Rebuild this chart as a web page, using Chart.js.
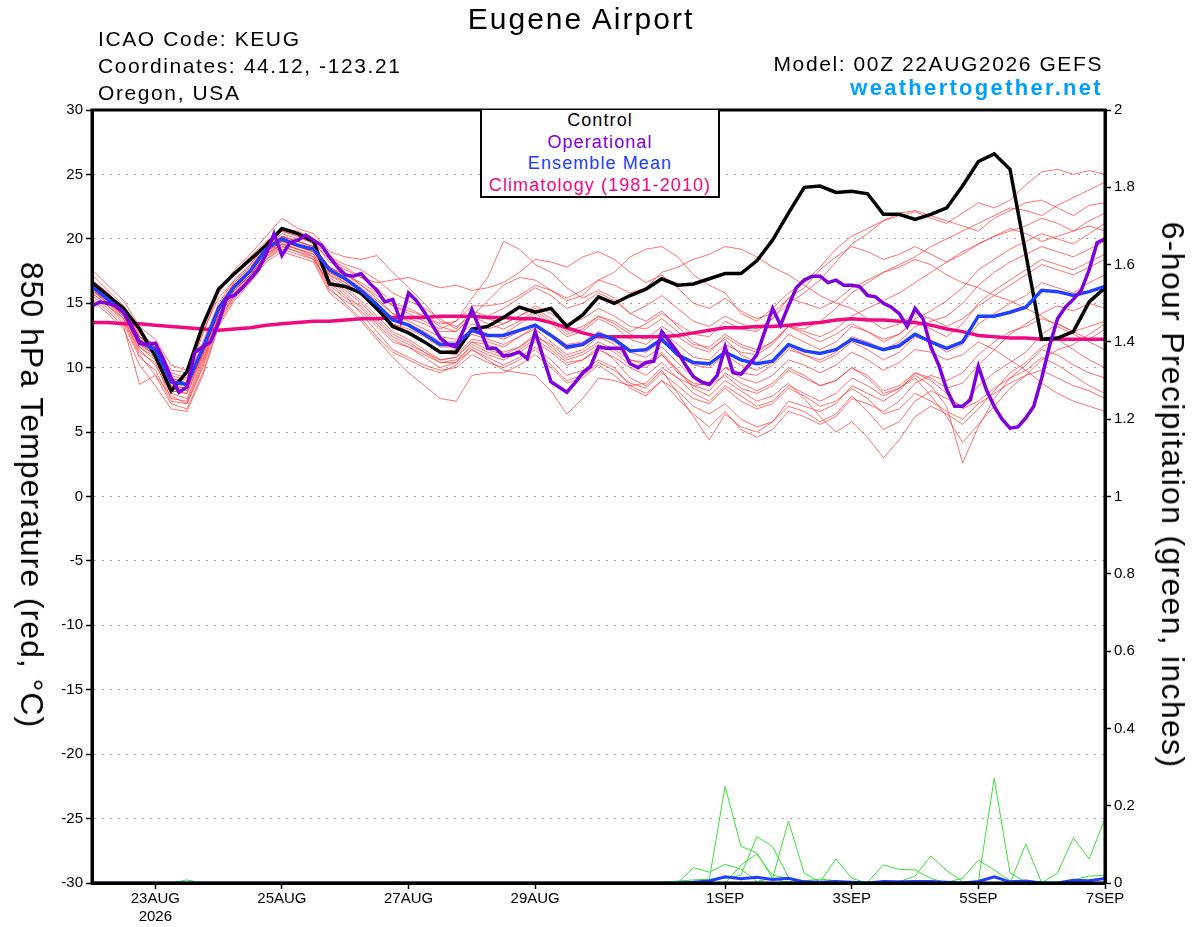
<!DOCTYPE html>
<html>
<head>
<meta charset="utf-8">
<script src="https://cdn.jsdelivr.net/npm/chart.js@4.4.1/dist/chart.umd.min.js"></script>
<style>
html,body{margin:0;padding:0;background:#fff;}
#wrap{position:relative;width:1200px;height:927px;overflow:hidden;font-family:"Liberation Sans",Arial,Helvetica,sans-serif;background:#fff;}
#c{position:absolute;left:0;top:0;}
.t{position:absolute;white-space:nowrap;line-height:1;color:#000;}
.rot{position:absolute;white-space:nowrap;line-height:1;transform:translate(-50%,-50%) rotate(90deg);font-size:32px;}
#legend{position:absolute;left:480px;top:110px;width:236px;height:86px;background:#fff;border-left:2px solid #000;border-right:2px solid #000;border-bottom:2px solid #000;z-index:3;}
#legend div{text-align:center;font-size:18px;line-height:21.5px;letter-spacing:1.1px;white-space:nowrap;}
</style>
</head>
<body>
<div id="wrap">
<canvas id="c" width="1200" height="927"></canvas>
<div class="t" style="left:0;width:1162px;text-align:center;top:4px;font-size:30px;letter-spacing:2px;">Eugene Airport</div>
<div class="t" style="left:98px;top:28px;font-size:21px;letter-spacing:1.6px;">ICAO Code: KEUG</div>
<div class="t" style="left:98px;top:55px;font-size:21px;letter-spacing:1.6px;">Coordinates: 44.12, -123.21</div>
<div class="t" style="left:98px;top:82px;font-size:21px;letter-spacing:1.6px;">Oregon, USA</div>
<div class="t" style="right:97px;top:53px;font-size:21px;letter-spacing:1.6px;">Model: 00Z 22AUG2026 GEFS</div>
<div class="t" style="right:97px;top:77px;font-size:22px;font-weight:bold;letter-spacing:2.3px;color:#00a0ff;">weathertogether.net</div>
<div id="legend">
  <div style="color:#000">Control</div>
  <div style="color:#7f00dc">Operational</div>
  <div style="color:#2040ff">Ensemble Mean</div>
  <div style="color:#f00a82">Climatology (1981-2010)</div>
</div>
<div class="rot" style="left:32px;top:495px;letter-spacing:1px;">850 hPa Temperature (red, °C)</div>
<div class="rot" style="left:1173px;top:495px;letter-spacing:1.3px;">6-hour Precipitation (green, inches)</div>
</div>
<script>
// ---- time axis (hours after 00Z 22AUG2026) ----
const hours6 = [0,6,12,18,24,30,36,42,48,54,60,66,72,78,84,90,96,102,108,114,120,126,132,138,144,150,156,162,168,174,180,186,192,198,204,210,216,222,228,234,240,246,252,258,264,270,276,282,288,294,300,306,312,318,324,330,336,342,348,354,360,366,372,378,384];
const hours3 = [0,3,6,9,12,15,18,21,24,27,30,33,36,39,42,45,48,51,54,57,60,63,66,69,72,75,78,81,84,87,90,93,96,99,102,105,108,111,114,117,120,123,126,129,132,135,138,141,144,147,150,153,156,159,162,165,168,171,174,177,180,183,186,189,192,195,198,201,204,207,210,213,216,219,222,225,228,231,234,237,240,243,246,249,252,255,258,261,264,267,270,273,276,279,282,285,288,291,294,297,300,303,306,309,312,315,318,321,324,327,330,333,336,339,342,345,348,351,354,357,360,363,366,369,372,375,378,381,384];
const tickHours = [24,72,120,168,240,288,336,384];
const tickLabels = [["23AUG","2026"],"25AUG","27AUG","29AUG","1SEP","3SEP","5SEP","7SEP"];

// ---- main temperature lines (deg C) ----
const control = [16.6,15.6,14.6,13.0,10.9,8.2,9.7,13.3,16.1,17.3, 18.4,19.5,20.8,20.4,19.8,16.5,16.3,15.8,14.6,13.2, 12.7,12.0,11.2,11.2,13.0,13.2,13.9,14.7,14.3,14.6, 13.2,14.1,15.5,15.0,15.6,16.1,16.9,16.4,16.5,16.9, 17.3,17.3,18.3,19.9,22.0,24.0,24.1,23.6,23.7,23.5, 21.9,21.9,21.5,21.9,22.4,24.1,26.0,26.6,25.4,18.8, 12.2,12.3,12.8,15.1,16.2];
const ensembleMean = [16.3,15.3,14.3,12.0,11.4,8.9,8.7,11.5,14.6,16.3, 17.5,19.2,20.0,19.5,19.2,17.6,16.9,16.0,14.9,13.7, 13.3,12.6,11.8,11.8,12.9,12.5,12.5,12.9,13.3,12.5, 11.6,11.8,12.6,12.2,11.3,11.4,12.2,11.0,10.4,10.3, 11.2,10.6,10.3,10.5,11.8,11.3,11.1,11.4,12.2,11.8, 11.4,11.7,12.6,12.0,11.5,12.0,14.0,14.0,14.3,14.7, 16.0,15.9,15.6,15.9,16.3];
const climatology = [13.5,13.5,13.4,13.4,13.3,13.2,13.1,13.0,12.9,13.0, 13.1,13.3,13.4,13.5,13.6,13.6,13.7,13.8,13.8,13.9, 13.9,13.9,14.0,14.0,14.0,13.9,13.9,13.8,13.8,13.5, 13.1,12.7,12.4,12.4,12.4,12.4,12.4,12.5,12.7,12.9, 13.1,13.1,13.2,13.2,13.3,13.4,13.5,13.7,13.8,13.7, 13.7,13.6,13.5,13.3,13.0,12.8,12.5,12.4,12.3,12.3, 12.2,12.2,12.2,12.2,12.2];
const operational = [14.8,15.1,15.0,14.8,14.3,13.2,11.9,11.8,11.9,10.7, 9.2,8.1,8.5,11.2,11.6,12.0,13.5,15.4,15.6,16.2, 16.9,17.6,18.8,20.4,18.7,19.7,19.9,20.3,19.9,19.5, 18.6,17.8,17.2,17.1,17.3,16.6,16.0,15.1,15.3,13.6, 15.8,15.2,14.3,13.3,12.3,11.8,11.6,13.0,14.5,13.0, 11.5,11.5,10.9,11.0,11.2,10.7,12.8,10.8,8.9,8.5, 8.1,8.8,9.6,10.1,11.6,11.5,11.5,11.5,10.3,10.0, 10.4,10.5,12.8,12.0,11.2,10.2,9.3,8.9,8.7,9.4, 11.6,9.6,9.5,10.2,11.0,12.8,14.6,13.3,14.8,16.2, 16.8,17.1,17.1,16.6,16.8,16.4,16.4,16.3,15.6,15.5, 15.0,14.7,14.2,13.2,14.6,13.8,11.6,10.2,8.3,7.0, 7.0,7.5,10.1,8.3,7.0,6.0,5.3,5.4,6.1,7.0, 9.2,11.7,13.8,14.7,15.3,16.0,17.6,19.7,20.0];

// ---- ensemble members (deg C) ----
const m01 = [17.2,16.0,14.8,12.8,11.0,9.6,9.2,12.6,15.8,17.4, 18.6,19.8,20.6,20.2,19.6,18.4,17.8,17.0,16.2,15.0, 14.6,14.0,13.2,12.8,14.0,15.2,16.4,17.0,16.8,16.0, 15.2,15.6,16.8,17.4,18.6,19.2,19.4,18.6,17.2,16.4, 15.8,14.2,13.6,14.6,15.8,16.6,17.8,19.2,20.2,20.8, 21.4,21.8,22.1,21.6,21.2,22.0,22.8,22.4,23.0,24.2, 25.2,25.4,25.0,25.3,25.0];
const m02 = [15.8,14.8,13.6,11.0,9.4,7.8,7.2,10.2,13.8,15.6, 17.0,18.8,19.6,19.2,18.6,16.2,15.0,13.8,12.4,11.2, 10.6,10.0,9.6,10.2,11.4,10.8,10.2,10.8,11.6,10.6, 9.4,9.8,10.6,10.0,8.6,8.0,9.0,8.2,7.0,6.4, 7.2,6.0,5.4,5.8,7.0,6.6,5.8,6.4,7.8,6.6, 5.2,5.8,7.4,8.2,7.6,7.0,8.6,9.6,10.4,11.2, 12.6,13.4,12.8,12.2,13.0];
const m03 = [16.6,15.6,14.6,12.6,11.8,9.2,8.8,11.8,14.8,16.6, 17.8,19.4,20.4,20.0,19.8,18.6,18.0,17.6,16.8,15.8, 15.2,14.6,13.8,13.0,14.4,14.0,14.6,15.4,16.2,15.6, 14.6,15.0,15.8,15.2,14.2,14.8,15.6,14.6,13.6,13.2, 14.0,13.4,13.0,13.8,15.0,15.8,16.8,18.2,19.6,20.4, 21.4,22.0,22.2,21.8,21.4,21.0,20.6,21.6,22.2,22.8, 23.0,22.4,21.8,22.6,22.8];
const m04 = [16.0,15.2,14.0,11.6,10.6,8.2,8.0,10.8,14.2,16.0, 17.2,18.8,19.8,19.4,19.0,17.0,16.2,15.2,14.0,12.8, 12.2,11.4,10.6,10.8,12.0,11.8,11.2,11.6,12.4,11.8, 10.8,11.2,12.0,11.4,10.6,10.2,11.0,9.6,8.8,8.6, 9.4,8.4,8.0,8.6,9.8,9.2,8.6,9.0,10.0,9.4, 8.2,8.6,9.6,9.0,8.0,6.8,7.4,8.4,9.2,9.8, 10.8,10.2,9.4,8.6,8.0];
const m05 = [16.8,15.8,14.4,12.2,11.6,9.8,9.6,12.8,15.4,16.8, 18.0,19.6,20.8,20.6,20.0,18.8,17.4,16.4,15.6,14.8, 14.2,13.6,13.0,13.6,15.4,17.0,19.8,19.2,18.0,17.4, 16.2,15.4,16.0,15.4,14.2,13.6,14.4,13.2,12.0,11.4, 12.2,11.0,10.4,11.2,12.6,12.0,11.4,12.0,13.2,12.8, 12.2,12.6,13.6,13.0,12.4,13.4,15.0,16.0,16.8,17.6, 18.4,18.0,17.6,18.2,18.8];
const m06 = [16.2,15.0,14.2,11.8,11.2,8.6,8.4,11.0,14.4,16.2, 17.4,19.0,19.8,19.4,19.0,17.2,16.6,15.8,14.8,13.4, 12.8,12.0,11.2,11.0,12.2,12.0,11.6,12.4,13.0,12.0, 11.0,11.4,12.4,11.8,10.6,10.4,11.2,9.8,8.4,7.8, 9.0,8.2,7.4,7.8,8.8,7.6,6.2,5.0,5.8,4.6, 3.0,4.4,6.2,7.0,6.4,5.6,6.8,8.2,9.6,10.4, 11.6,12.2,11.4,10.6,10.0];
const m07 = [15.4,14.4,13.2,8.7,9.4,7.2,6.8,9.6,13.4,15.4, 16.8,18.4,19.2,18.8,18.4,16.0,15.2,14.4,13.2,12.0, 11.6,11.0,10.4,10.6,11.6,11.0,10.6,11.2,12.0,11.2, 10.2,10.6,11.4,10.8,10.0,9.4,10.4,9.2,8.0,7.4, 8.6,7.8,7.0,7.4,8.6,8.0,7.4,8.0,9.2,8.6, 7.8,8.4,9.4,8.6,7.0,2.6,5.4,7.6,9.2,10.2, 11.4,11.0,10.2,9.6,9.2];
const m08 = [16.4,15.4,14.4,12.4,11.4,9.0,8.6,11.4,14.6,16.4, 17.6,19.2,20.2,19.8,19.4,17.8,17.2,16.4,15.4,14.2, 13.6,13.0,12.4,12.2,13.4,13.0,13.4,14.0,14.6,13.8, 12.8,13.2,14.0,13.4,12.6,12.2,13.2,12.4,11.6,11.2, 12.4,11.6,11.2,12.0,13.2,12.8,12.4,13.0,14.0,14.6, 15.2,15.8,16.6,17.4,18.2,19.0,19.6,20.2,20.6,21.0, 21.6,21.2,20.6,21.4,22.0];
const m09 = [16.0,15.0,13.8,11.4,10.2,8.0,7.6,10.6,14.0,15.8, 17.0,18.6,19.6,19.2,18.8,16.8,15.8,14.6,13.4,12.2, 11.6,10.8,10.0,10.4,11.8,11.2,10.8,11.4,12.2,11.4, 10.4,10.6,11.6,10.6,9.2,8.6,9.8,8.0,6.2,4.4, 6.4,5.4,5.0,5.8,7.4,7.0,6.6,7.2,8.6,8.0, 7.4,8.2,9.6,9.2,8.4,8.8,10.2,11.4,12.6,13.4, 14.2,14.8,14.4,15.0,14.6];
const m10 = [16.8,15.8,14.6,12.4,11.8,9.4,9.0,12.0,15.0,16.8, 18.0,19.6,20.6,20.2,19.8,18.2,17.6,17.0,16.6,16.8, 17.0,16.6,16.2,16.4,16.0,16.2,16.6,17.4,18.4,18.2, 17.8,18.6,19.0,18.4,17.4,16.6,17.2,16.2,15.0,14.6, 15.4,14.4,13.8,14.2,15.4,15.0,14.6,15.2,16.2,16.8, 17.4,18.0,18.6,19.4,20.0,20.6,21.2,21.8,22.4,22.2, 21.8,22.6,23.2,23.8,24.4];
const m11 = [15.6,14.6,13.4,10.8,9.8,7.4,7.2,10.0,13.6,15.6, 16.8,18.4,19.4,19.0,18.4,16.6,15.6,14.2,12.8,11.4, 10.8,10.2,9.8,10.0,11.0,10.4,10.0,10.6,11.4,10.2, 9.0,9.4,10.4,9.8,8.8,8.4,9.6,8.6,7.6,7.2, 8.4,7.4,6.8,7.2,8.4,7.8,7.0,7.4,8.4,7.6, 6.4,6.8,8.0,7.4,6.6,6.0,7.2,8.0,8.8,9.4, 9.8,9.2,8.6,8.2,7.6];
const m12 = [16.4,15.4,14.2,12.0,11.2,8.8,8.6,11.2,14.6,16.4, 17.6,19.2,20.0,19.6,19.2,17.4,16.8,16.0,15.0,13.8, 13.4,12.8,12.0,12.0,13.0,12.6,12.2,12.8,13.4,12.6, 11.8,12.0,12.8,12.2,11.4,11.2,12.0,11.0,10.2,10.0, 11.0,10.2,9.8,10.4,11.6,11.0,10.4,11.0,12.0,11.4, 10.6,11.2,12.4,12.0,11.2,11.8,13.4,14.2,15.0,15.6, 16.6,16.2,15.8,16.6,17.2];
const m13 = [17.6,16.4,15.2,13.2,12.2,10.2,9.8,13.0,16.0,17.6, 18.8,20.2,21.6,20.8,20.4,19.0,18.6,18.4,18.7,17.4, 16.2,15.0,13.6,13.2,14.0,13.4,13.0,13.6,14.4,13.6, 12.6,13.0,14.0,13.6,12.8,13.4,14.2,13.4,12.6,12.4, 13.6,13.0,12.8,13.8,15.4,16.2,17.6,18.6,19.4,19.0, 18.4,18.8,19.4,18.8,18.2,18.8,19.6,20.2,20.8,20.4, 19.8,20.2,20.6,21.0,20.6];
const m14 = [15.8,14.8,13.8,11.2,10.4,7.6,7.4,10.4,14.0,15.8, 17.2,18.6,19.4,19.0,18.6,16.4,15.4,14.8,13.6,12.4, 11.8,11.2,10.6,10.8,12.0,11.4,11.0,11.6,12.6,11.6, 10.6,11.0,11.8,11.2,10.2,10.0,11.0,9.8,8.6,8.2, 9.6,8.8,8.2,8.8,10.0,9.4,8.6,9.0,10.0,9.2, 8.0,8.4,9.2,7.8,6.2,4.2,5.6,7.0,8.4,9.4, 10.6,11.4,11.8,12.6,13.4];
const m15 = [16.6,15.6,14.6,12.2,11.6,9.2,8.8,11.6,14.8,16.6, 17.8,19.4,20.2,19.8,19.4,17.8,17.0,16.2,15.2,14.2, 13.8,13.4,12.8,12.8,14.0,13.8,13.4,14.0,14.8,14.2, 13.4,13.8,14.6,14.0,13.2,13.0,13.8,12.8,11.8,11.6, 12.6,11.8,11.4,12.0,13.2,12.6,12.0,12.6,13.4,12.8, 12.0,12.6,13.8,14.4,15.2,16.2,17.6,18.4,19.2,19.8, 20.4,20.0,19.6,20.4,21.2];
const m16 = [15.2,14.2,13.0,10.2,8.6,6.8,6.6,9.4,13.2,15.2, 16.6,18.2,19.0,18.6,18.2,15.8,14.8,13.6,12.2,10.8, 9.6,8.6,7.6,7.4,9.4,9.6,9.6,10.2,11.0,10.0, 8.8,9.2,10.2,9.4,8.4,7.8,9.0,7.6,6.4,5.4, 6.6,5.2,4.6,5.2,6.6,6.2,5.6,6.2,7.6,7.2, 6.6,7.4,8.8,9.4,9.0,9.6,11.0,12.0,12.8,13.2, 13.8,13.4,12.8,13.2,13.6];
const m17 = [16.2,15.2,14.2,11.8,11.0,8.4,8.2,11.2,14.4,16.0, 17.4,19.0,19.8,19.4,19.0,17.4,16.6,15.6,14.6,13.4, 13.0,12.4,11.6,11.6,12.8,12.4,12.6,13.4,14.2,13.4, 12.4,12.8,13.8,13.2,12.2,11.8,12.8,11.8,10.8,10.6, 11.8,11.2,11.0,11.8,13.2,13.0,13.6,14.6,15.8,16.6, 17.4,17.8,18.4,18.0,17.2,16.6,16.2,15.6,15.2,14.6, 14.0,13.2,12.6,12.0,11.4];
const m18 = [16.0,15.0,14.0,11.6,10.8,8.2,8.0,11.0,14.2,16.0, 17.2,18.8,19.6,19.2,18.8,16.8,16.0,15.0,13.8,12.6, 12.0,11.2,10.4,10.4,11.4,10.6,9.8,9.6,9.4,8.2, 6.4,7.6,9.2,9.0,8.6,8.8,10.0,9.2,8.6,8.8, 10.0,9.6,9.4,10.2,11.4,11.0,10.6,11.2,12.4,12.0, 11.4,12.0,13.2,13.6,14.0,15.0,16.4,17.4,18.2,18.8, 19.4,19.0,18.6,19.2,19.8];
const m19 = [16.6,15.6,14.4,12.4,11.6,9.0,8.6,11.4,14.6,16.4, 17.6,19.2,20.2,19.8,19.4,17.8,17.2,16.6,15.8,14.8, 14.4,14.0,13.4,13.6,14.8,14.8,15.0,15.6,16.4,16.0, 15.4,16.0,16.8,16.4,15.8,16.2,17.4,17.8,18.4,18.8, 19.4,19.2,18.6,17.8,17.2,16.4,15.6,15.0,14.6,13.8, 13.0,13.4,14.2,13.8,13.2,13.8,14.8,15.6,16.4,17.2, 18.0,17.6,17.2,17.8,18.4];
const m20 = [16.2,15.2,14.0,11.8,11.0,8.6,8.4,11.2,14.4,16.2, 17.4,19.0,19.8,19.4,19.0,17.2,16.4,15.6,14.4,13.2, 12.6,12.0,11.2,11.4,12.6,12.2,11.8,12.4,13.2,12.4, 11.4,11.8,12.6,12.0,11.2,10.8,11.6,10.4,9.2,8.8, 10.0,9.2,8.8,9.4,10.6,10.2,9.6,10.2,11.2,10.6, 9.8,10.4,11.4,11.2,10.6,11.0,12.0,11.4,10.6,9.8, 8.8,8.0,7.4,7.0,6.6];

// ---- 6-hour precipitation (inches) ----
const p01 = [0,0,0,0,0,0,0.008,0,0,0, 0,0,0,0,0,0,0,0,0,0, 0,0,0,0,0,0,0,0,0,0, 0,0,0,0,0,0,0,0,0,0.01, 0.25,0.095,0.078,0.012,0,0,0,0,0,0, 0,0,0,0,0,0,0,0,0,0, 0,0,0,0,0];
const p02 = [0,0,0,0,0,0,0,0,0,0, 0,0,0,0,0,0,0,0,0,0, 0,0,0,0,0,0,0,0,0,0, 0,0,0,0,0,0,0,0,0.04,0.028, 0.048,0.036,0.004,0.012,0.16,0.025,0.003,0.062,0.012,0, 0,0,0,0,0,0,0,0,0,0, 0,0,0,0,0];
const p03 = [0,0,0,0,0,0,0,0,0,0, 0,0,0,0,0,0,0,0,0,0, 0,0,0,0,0,0,0,0,0,0, 0,0,0,0,0,0,0.002,0.005,0.008,0.01, 0.012,0.02,0.12,0.094,0.015,0,0,0,0,0, 0,0,0,0,0,0,0,0,0,0, 0,0,0,0,0];
const p04 = [0,0,0,0,0,0,0,0,0,0, 0,0,0,0,0,0,0,0,0,0, 0,0,0,0,0,0,0,0,0,0, 0,0,0,0,0,0,0,0,0,0, 0,0.046,0.075,0.02,0.012,0.004,0,0,0,0, 0,0,0,0,0,0,0,0,0,0, 0,0,0,0,0];
const p05 = [0,0,0,0,0,0,0,0,0,0, 0,0,0,0,0,0,0,0,0,0, 0,0,0,0,0,0,0,0,0,0, 0,0,0,0,0,0,0,0,0,0, 0,0,0,0,0,0,0,0,0,0.002, 0.047,0.035,0.034,0.012,0,0,0,0,0,0, 0,0,0,0,0];
const p06 = [0,0,0,0,0,0,0,0,0,0, 0,0,0,0,0,0,0,0,0,0, 0,0,0,0,0,0,0,0,0,0, 0,0,0,0,0,0,0,0,0,0, 0,0,0,0,0,0,0,0,0,0, 0,0.003,0.018,0.07,0.032,0.004,0,0,0,0, 0,0,0,0,0];
const p07 = [0,0,0,0,0,0,0,0,0,0, 0,0,0,0,0,0,0,0,0,0, 0,0,0,0,0,0,0,0,0,0, 0,0,0,0,0,0,0,0,0,0, 0,0,0,0,0,0,0,0,0,0, 0,0,0,0,0.002,0.012,0.059,0.034,0.006,0, 0,0,0,0,0];
const p08 = [0,0,0,0,0,0,0,0,0,0, 0,0,0,0,0,0,0,0,0,0, 0,0,0,0,0,0,0,0,0,0, 0,0,0,0,0,0,0,0,0,0, 0,0,0,0,0,0,0,0,0,0, 0,0,0,0,0,0,0.004,0.271,0.026,0.002, 0,0,0,0,0];
const p09 = [0,0,0,0,0,0,0,0,0,0, 0,0,0,0,0,0,0,0,0,0, 0,0,0,0,0,0,0,0,0,0, 0,0,0,0,0,0,0,0,0,0, 0,0,0,0,0,0,0,0,0,0, 0,0,0,0,0,0,0,0,0,0.101, 0,0.026,0.117,0.062,0.167];
const p10 = [0,0,0,0,0,0,0,0,0,0, 0,0,0,0,0,0,0,0,0,0.003, 0,0,0,0,0,0,0,0,0,0, 0,0,0,0,0,0,0,0,0,0, 0,0,0,0,0.004,0.006,0.01,0.006,0,0, 0,0,0,0,0,0,0,0,0,0, 0.004,0,0.008,0.018,0.02];
const precipMean = [0,0,0,0,0,0,0,0,0,0, 0,0,0,0,0,0,0,0,0,0, 0,0,0,0,0,0,0,0,0,0, 0,0,0,0,0,0,0,0,0.002,0.005, 0.016,0.011,0.015,0.009,0.012,0.003,0.002,0.004,0.002,0, 0.004,0.003,0.004,0.004,0.002,0,0.004,0.016,0.003,0.005, 0,0,0.007,0.006,0.012];

const tempTicks = [-30,-25,-20,-15,-10,-5,0,5,10,15,20,25,30];
const precipTicks = [0,0.2,0.4,0.6,0.8,1,1.2,1.4,1.6,1.8,2];

// ---- build datasets ----
const members = [m01,m02,m03,m04,m05,m06,m07,m08,m09,m10,m11,m12,m13,m14,m15,m16,m17,m18,m19,m20];
const precipMembers = [p01,p02,p03,p04,p05,p06,p07,p08,p09,p10];
function pts(hrs, vals){ return vals.map((v,i)=>({x:hrs[i], y:v})); }

const datasets = [];
members.forEach((vals,k)=>datasets.push({label:'Member '+(k+1), data:pts(hours6,vals), yAxisID:'y', borderColor:'rgba(255,45,45,0.75)', borderWidth:0.9, order:6}));
precipMembers.forEach((vals,k)=>datasets.push({label:'Precip member '+(k+1), data:pts(hours6,vals), yAxisID:'y2', borderColor:'#3ce03c', borderWidth:1, order:5}));
datasets.push({label:'Ensemble Mean precipitation', data:pts(hours6,precipMean), yAxisID:'y2', borderColor:'#2040ff', borderWidth:3, order:4});
datasets.push({label:'Climatology (1981-2010)', data:pts(hours6,climatology), yAxisID:'y', borderColor:'#f00a82', borderWidth:3.5, order:3});
datasets.push({label:'Control', data:pts(hours6,control), yAxisID:'y', borderColor:'#000000', borderWidth:3.5, order:2});
datasets.push({label:'Ensemble Mean', data:pts(hours6,ensembleMean), yAxisID:'y', borderColor:'#2040ff', borderWidth:3.5, order:1});
datasets.push({label:'Operational', data:pts(hours3,operational), yAxisID:'y', borderColor:'#7f00dc', borderWidth:3.5, order:0});

const FONT = '"Liberation Sans", Arial, Helvetica, sans-serif';

// plot frame drawn on top of everything (covers zero-valued precip lines along the bottom)
const frame = {
  id:'frame',
  afterDraw(chart){
    const {ctx, chartArea:a} = chart;
    ctx.save();
    ctx.strokeStyle = '#000';
    ctx.lineWidth = 3;
    ctx.beginPath();
    ctx.moveTo(a.left, a.top);
    ctx.lineTo(a.right, a.top);
    ctx.lineTo(a.right, a.bottom);
    ctx.lineTo(a.left, a.bottom);
    ctx.closePath();
    ctx.stroke();
    ctx.restore();
  }
};

new Chart(document.getElementById('c'), {
  type:'line',
  data:{datasets},
  options:{
    responsive:false,
    maintainAspectRatio:false,
    animation:false,
    devicePixelRatio:1,
    layout:{padding:{top:110,left:0,right:0,bottom:0}},
    elements:{point:{radius:0}, line:{tension:0, fill:false}},
    plugins:{legend:{display:false}, title:{display:false}, tooltip:{enabled:false}},
    scales:{
      x:{
        type:'linear', min:0, max:384, position:'bottom', z:1,
        afterBuildTicks:(s)=>{ s.ticks = tickHours.map(v=>({value:v})); },
        afterFit:(s)=>{ s.height = 44; },
        ticks:{
          autoSkip:false, maxRotation:0, minRotation:0, padding:1, color:'#000',
          font:{family:FONT, size:15},
          callback:(v)=>{ const k = tickHours.indexOf(v); return k>=0 ? tickLabels[k] : ''; }
        },
        grid:{drawOnChartArea:false, drawTicks:true, tickLength:6, tickColor:'#000', tickWidth:1.5},
        border:{display:true, color:'#000', width:3}
      },
      y:{
        type:'linear', min:-30, max:30, position:'left',
        afterBuildTicks:(s)=>{ s.ticks = tempTicks.map(v=>({value:v})); },
        afterFit:(s)=>{ s.width = 92; },
        ticks:{padding:3, color:'#000', font:{family:FONT, size:15}, callback:(v)=>String(v)},
        grid:{color:'#a8a8a8', lineWidth:1, drawTicks:true, tickLength:6, tickColor:'#000', tickWidth:1.5, tickBorderDash:[]},
        border:{display:true, color:'#000', width:3, dash:[2,6]}
      },
      y2:{
        type:'linear', min:0, max:2, position:'right', z:1,
        afterBuildTicks:(s)=>{ s.ticks = precipTicks.map(v=>({value:v})); },
        afterFit:(s)=>{ s.width = 95; },
        ticks:{padding:3, color:'#000', font:{family:FONT, size:15}, callback:(v)=>String(Math.round(v*10)/10)},
        grid:{drawOnChartArea:false, drawTicks:true, tickLength:6, tickColor:'#000', tickWidth:1.5},
        border:{display:true, color:'#000', width:3}
      }
    }
  },
  plugins:[frame]
});
</script>
</body>
</html>
